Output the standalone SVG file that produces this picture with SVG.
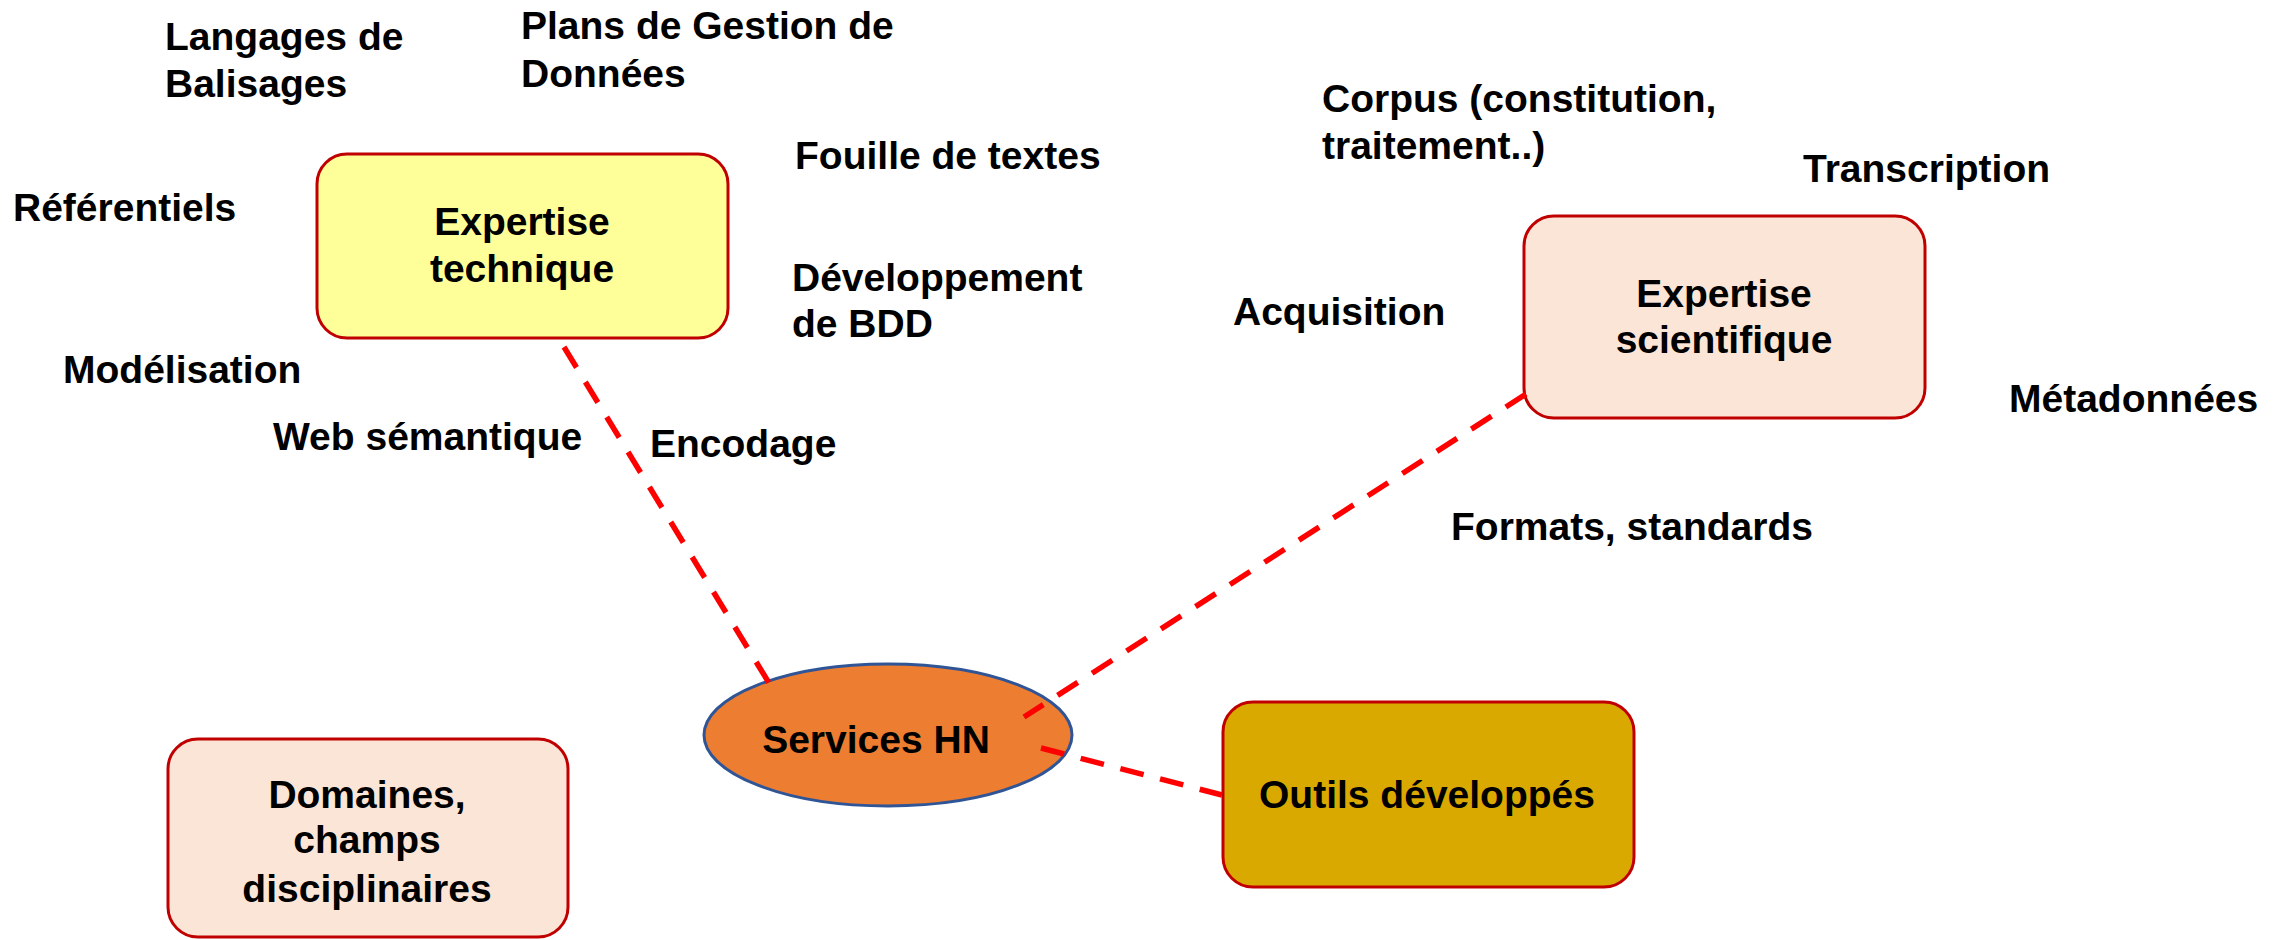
<svg xmlns="http://www.w3.org/2000/svg" width="2290" height="940" viewBox="0 0 2290 940">
<style>
text{font-family:"Liberation Sans",Arial,sans-serif;font-weight:bold;font-size:39px;fill:#000}
.c{text-anchor:middle}
.box{stroke:#C00000;stroke-width:3}
.conn{stroke:#FF0000;stroke-width:5.5;stroke-dasharray:24 17;fill:none}
</style>
<rect width="2290" height="940" fill="#FFFFFF"/>
<g id="labels">
<text x="165" y="50">Langages de</text>
<text x="165" y="97">Balisages</text>
<text x="521" y="39">Plans de Gestion de</text>
<text x="521" y="87">Données</text>
<text x="795" y="169">Fouille de textes</text>
<text x="13" y="221">Référentiels</text>
<text x="792" y="291">Développement</text>
<text x="792" y="337">de BDD</text>
<text x="63" y="383">Modélisation</text>
<text x="273" y="450">Web sémantique</text>
<text x="650" y="457">Encodage</text>
<text x="1322" y="112">Corpus (constitution,</text>
<text x="1322" y="159">traitement..)</text>
<text x="1803" y="182">Transcription</text>
<text x="1233" y="325">Acquisition</text>
<text x="2009" y="412">Métadonnées</text>
<text x="1451" y="540">Formats, standards</text>
</g>
<g id="expertise-technique">
<rect class="box" x="317" y="154" width="411" height="184" rx="30" fill="#FFFF99"/>
<text class="c" x="522" y="235">Expertise</text>
<text class="c" x="522" y="282">technique</text>
</g>
<g id="expertise-scientifique">
<rect class="box" x="1524" y="216" width="401" height="202" rx="30" fill="#FBE5D6"/>
<text class="c" x="1724" y="307">Expertise</text>
<text class="c" x="1724" y="353">scientifique</text>
</g>
<g id="domaines">
<rect class="box" x="168" y="739" width="400" height="198" rx="30" fill="#FBE5D6"/>
<text class="c" x="367" y="808">Domaines,</text>
<text class="c" x="367" y="853">champs</text>
<text class="c" x="367" y="902">disciplinaires</text>
</g>
<g id="outils">
<rect class="box" x="1223" y="702" width="411" height="185" rx="30" fill="#DAA900"/>
<text class="c" x="1427" y="808">Outils développés</text>
</g>
<g id="services-hn">
<ellipse cx="888" cy="735" rx="184" ry="71" fill="#ED7D31" stroke="#2F5597" stroke-width="3"/>
<text class="c" x="876" y="753">Services HN</text>
</g>
<g id="connectors">
<line class="conn" x1="564" y1="347" x2="769" y2="683"/>
<line class="conn" x1="1526" y1="394" x2="1024" y2="717"/>
<line class="conn" x1="1041" y1="748" x2="1222" y2="795"/>
</g>
</svg>
